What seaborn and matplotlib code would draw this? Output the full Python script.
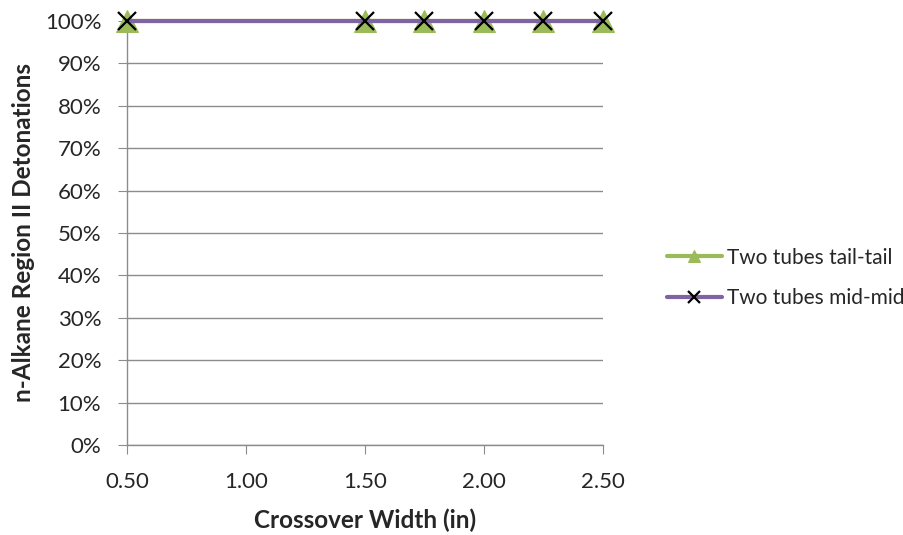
import matplotlib
matplotlib.use("Agg")
import matplotlib.pyplot as plt
import seaborn as sns
import pandas as pd
from matplotlib.ticker import FuncFormatter, MultipleLocator

crossover_width = [0.50, 1.50, 1.75, 2.00, 2.25, 2.50]
tail_tail = [100, 100, 100, 100, 100, 100]
mid_mid = [100, 100, 100, 100, 100, 100]
series_names = ["Two tubes tail-tail", "Two tubes mid-mid"]

df = pd.DataFrame({
    "x": crossover_width * 2,
    "y": tail_tail + mid_mid,
    "series": [series_names[0]] * len(tail_tail) + [series_names[1]] * len(mid_mid),
})

sns.set_style("white")
plt.rcParams["font.family"] = ["Lato", "DejaVu Sans"]

fig = plt.figure(figsize=(9.04, 5.35), dpi=100)
ax = fig.add_axes([0.1405, 0.168, 0.5265, 0.793])

green = "#9BBB59"
purple = "#8064A2"

sns.lineplot(data=df[df.series == series_names[0]], x="x", y="y", ax=ax,
             color=green, linewidth=3, marker="^", markersize=16,
             markeredgecolor=green, markerfacecolor=green, label=series_names[0], zorder=3)
sns.lineplot(data=df[df.series == series_names[1]], x="x", y="y", ax=ax,
             color=purple, linewidth=3, marker="x", markersize=13,
             markeredgecolor="black", markeredgewidth=1.6, label=series_names[1], zorder=4)

ax.set_xlim(0.5, 2.5)
ax.set_ylim(0, 100)
ax.xaxis.set_major_locator(MultipleLocator(0.5))
ax.yaxis.set_major_locator(MultipleLocator(10))
ax.xaxis.set_major_formatter(FuncFormatter(lambda v, p: f"{v:.2f}"))
ax.yaxis.set_major_formatter(FuncFormatter(lambda v, p: f"{v:.0f}%"))
ax.grid(axis="y", color="#8C8C8C", linewidth=1)
ax.set_axisbelow(True)
for s in ["top", "right"]:
    ax.spines[s].set_visible(False)
for s in ["left", "bottom"]:
    ax.spines[s].set_color("#8C8C8C")
    ax.spines[s].set_linewidth(1)
ax.tick_params(axis="both", which="major", direction="out", length=6.5, color="#8C8C8C",
               labelsize=16, left=True, bottom=True)
ax.tick_params(axis="x", pad=12.5)
ax.tick_params(axis="y", pad=12)
ax.set_xlabel("Crossover Width (in)", fontsize=17.5, fontweight="bold", labelpad=12)
ax.set_ylabel("n-Alkane Region II Detonations", fontsize=17.5, fontweight="bold", labelpad=7)
for l in ax.lines:
    l.set_clip_on(False)

leg = ax.legend(loc="center left", bbox_to_anchor=(1.134, 0.394), frameon=False,
                fontsize=15, labelspacing=1.0, handlelength=2.64, handletextpad=0.24,
                borderaxespad=0.0, borderpad=0.0)
for h in leg.legend_handles:
    h.set_markersize(9)

fig.savefig("out.png", dpi=100)
